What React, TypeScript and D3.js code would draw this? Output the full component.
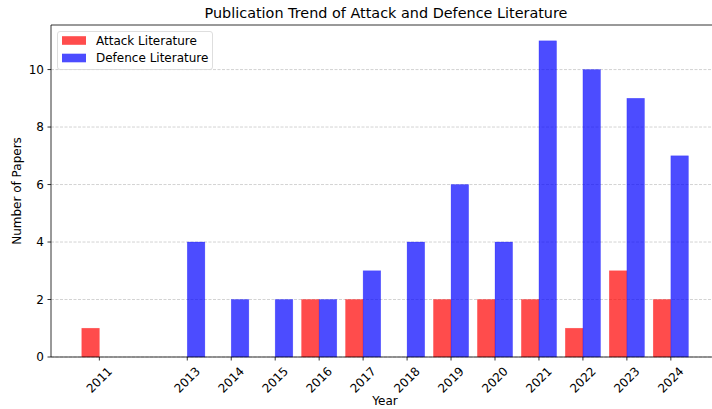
import { useEffect, useRef } from 'react'
import * as d3 from 'd3'

const YEARS = [2011, 2013, 2014, 2015, 2016, 2017, 2018, 2019, 2020, 2021, 2022, 2023, 2024]
const ATTACK = [1, 0, 0, 0, 2, 2, 0, 2, 2, 2, 1, 3, 2]
const DEFENCE = [0, 4, 2, 2, 2, 3, 4, 6, 4, 11, 10, 9, 7]
const Y_TICKS = [0, 2, 4, 6, 8, 10]
const SERIES = [
  { name: 'Attack Literature', values: ATTACK, color: '#ff0000', offset: -0.2 },
  { name: 'Defence Literature', values: DEFENCE, color: '#0000ff', offset: 0.2 },
]

export default function App() {
  const svgRef = useRef<SVGSVGElement>(null)
  const WIDTH = 712
  const HEIGHT = 409
  const M = { top: 25, left: 51, bottom: 357, right: 728 }
  const BAR_W = 0.4

  useEffect(() => {
    if (!svgRef.current) return
    const svg = d3.select(svgRef.current)
    svg.selectAll('*').remove()
    const font = 'DejaVu Sans, sans-serif'

    const x = d3.scaleLinear().domain([2009.9, 2025.3]).range([M.left, M.right])
    const y = d3.scaleLinear().domain([0, 11.55]).range([M.bottom, M.top])

    svg.append('rect').attr('width', WIDTH).attr('height', HEIGHT).attr('fill', '#fff')

    // grid
    Y_TICKS.forEach(t => {
      svg.append('line').attr('x1', M.left).attr('x2', M.right)
        .attr('y1', y(t)).attr('y2', y(t))
        .attr('stroke', '#b0b0b0').attr('stroke-opacity', 0.7)
        .attr('stroke-width', 0.8).attr('stroke-dasharray', '3 1.5')
    })

    // bars
    SERIES.forEach(s => {
      s.values.forEach((v, i) => {
        const x0 = x(YEARS[i] + s.offset - BAR_W / 2)
        const x1 = x(YEARS[i] + s.offset + BAR_W / 2)
        svg.append('rect')
          .attr('x', x0).attr('y', y(v))
          .attr('width', x1 - x0).attr('height', y(0) - y(v))
          .attr('fill', s.color).attr('fill-opacity', 0.7)
          .attr('stroke', s.color).attr('stroke-opacity', 0.35).attr('stroke-width', 0.6)
      })
    })

    // spines
    svg.append('line').attr('x1', M.left).attr('x2', M.right).attr('y1', M.top).attr('y2', M.top)
      .attr('stroke', '#000').attr('stroke-width', 0.8)
    svg.append('line').attr('x1', M.left).attr('x2', M.right).attr('y1', M.bottom).attr('y2', M.bottom)
      .attr('stroke', '#000').attr('stroke-width', 0.8)
    svg.append('line').attr('x1', M.left).attr('x2', M.left).attr('y1', M.top).attr('y2', M.bottom)
      .attr('stroke', '#000').attr('stroke-width', 0.8)

    // y ticks
    Y_TICKS.forEach(t => {
      svg.append('line').attr('x1', M.left - 3.5).attr('x2', M.left)
        .attr('y1', y(t)).attr('y2', y(t)).attr('stroke', '#000').attr('stroke-width', 0.8)
      svg.append('text').attr('x', M.left - 7).attr('y', y(t))
        .attr('text-anchor', 'end').attr('dominant-baseline', 'central')
        .attr('font-family', font).attr('font-size', 12).attr('fill', '#000')
        .text(String(t))
    })

    // x ticks
    YEARS.forEach(yr => {
      const px = x(yr)
      svg.append('line').attr('x1', px).attr('x2', px)
        .attr('y1', M.bottom).attr('y2', M.bottom + 3.5).attr('stroke', '#000').attr('stroke-width', 0.8)
      svg.append('text')
        .attr('transform', `translate(${px},${M.bottom + 23}) rotate(-45)`)
        .attr('text-anchor', 'middle').attr('dominant-baseline', 'central')
        .attr('font-family', font).attr('font-size', 12).attr('fill', '#000')
        .text(String(yr))
    })

    // labels
    svg.append('text').attr('x', 385).attr('y', 405)
      .attr('text-anchor', 'middle').attr('font-family', font).attr('font-size', 12)
      .text('Year')
    svg.append('text').attr('transform', `translate(21,${(M.top + M.bottom) / 2}) rotate(-90)`)
      .attr('text-anchor', 'middle').attr('font-family', font).attr('font-size', 12)
      .text('Number of Papers')
    svg.append('text').attr('x', 386).attr('y', 18)
      .attr('text-anchor', 'middle').attr('font-family', font).attr('font-size', 14.4)
      .text('Publication Trend of Attack and Defence Literature')

    // legend
    const lg = svg.append('g')
    lg.append('rect').attr('x', 57.5).attr('y', 31.5).attr('width', 155).attr('height', 38)
      .attr('rx', 2.5).attr('fill', '#fff').attr('fill-opacity', 0.8)
      .attr('stroke', '#d6d6d6').attr('stroke-width', 0.8)
    SERIES.forEach((s, i) => {
      const cy = 40.5 + i * 17.5
      lg.append('rect').attr('x', 62).attr('y', cy - 4.3).attr('width', 24).attr('height', 8.6)
        .attr('fill', s.color).attr('fill-opacity', 0.7)
      lg.append('text').attr('x', 96).attr('y', cy)
        .attr('dominant-baseline', 'central').attr('font-family', font).attr('font-size', 12)
        .text(s.name)
    })
  }, [])

  return (
    <div style={{ position: 'absolute', left: 0, top: 0 }}>
      <svg ref={svgRef} width={WIDTH} height={HEIGHT} style={{ display: 'block' }} />
    </div>
  )
}
